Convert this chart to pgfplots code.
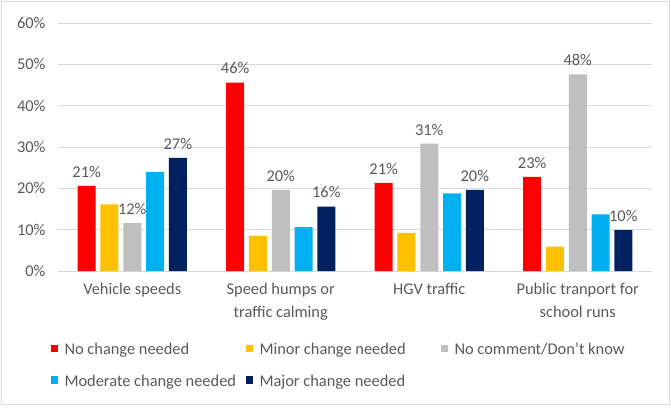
\documentclass[border=0pt]{standalone}
\usepackage{pgfplots}
\pgfplotsset{compat=1.18}
\usepackage{fontspec}
\setmainfont{Carlito}
\definecolor{cred}{HTML}{FF0000}
\definecolor{corange}{HTML}{FFC000}
\definecolor{cgray}{HTML}{BFBFBF}
\definecolor{ccyan}{HTML}{00B0F0}
\definecolor{cnavy}{HTML}{002060}
\definecolor{txt}{HTML}{595959}
\definecolor{gridc}{HTML}{D9D9D9}
\pgfplotsset{
  myleg/.style={legend image code/.code={\fill[##1] (0pt,-3.75pt) rectangle (7.5pt,3.75pt); \path (14pt,0pt);}},
  mylab/.style={nodes near coords={\pgfmathprintnumber[fixed,precision=0]{\pgfplotspointmeta}\%},
    every node near coord/.append style={font=\fontsize{16.4}{19.2}\selectfont, text=txt, yshift=5pt}},
}
\newcommand{\legtxt}[1]{\makebox[181pt][l]{\strut #1}}
\begin{document}
\begin{tikzpicture}[x=1pt,y=1pt]
\useasboundingbox (0,0) rectangle (671,408);
\draw[gridc, line width=1pt] (1.5,3.5) rectangle (669.5,406.5);
\begin{axis}[
  at={(58pt,137pt)}, anchor=south west,
  scale only axis, width=594pt, height=248pt,
  xmin=-0.5, xmax=3.5, ymin=0, ymax=60,
  ybar=4.8pt, bar width=18pt,
  axis line style={draw=none},
  major tick length=0pt,
  ytick={0,10,...,60},
  yticklabel={\pgfmathprintnumber{\tick}\%},
  /pgf/number format/assume math mode=true,
  ymajorgrids, grid style={gridc, line width=1pt},
  xtick={0,1,2,3},
  xticklabels={Vehicle speeds,{Speed humps or\\traffic calming},HGV traffic,{Public tranport for\\school runs}},
  tick label style={text=txt},
  yticklabel style={font=\fontsize{16.4}{19.2}\selectfont, xshift=-9pt},
  xticklabel style={font=\fontsize{16.4}{23}\selectfont, align=center, yshift=-9pt},
  legend columns=3,
  legend style={at={(-0.0126,-0.283)}, anchor=north west, draw=none, fill=none,
    inner sep=0pt, outer sep=0pt, column sep=0pt, row sep=16.5pt,
    nodes={inner sep=0pt, text=txt, font=\fontsize{16.4}{19.2}\selectfont},
    cells={anchor=west}},
]
\addplot[fill=cred, draw=none, myleg, mylab] coordinates {(0,20.6) (1,45.6) (2,21.3) (3,22.8)};
\addplot[fill=corange, draw=none, myleg] coordinates {(0,16.1) (1,8.5) (2,9.2) (3,5.9)};
\addplot[fill=cgray, draw=none, myleg, mylab] coordinates {(0,11.6) (1,19.6) (2,30.8) (3,47.6)};
\addplot[fill=ccyan, draw=none, myleg] coordinates {(0,23.9) (1,10.6) (2,18.8) (3,13.7)};
\addplot[fill=cnavy, draw=none, myleg, mylab] coordinates {(0,27.4) (1,15.6) (2,19.6) (3,9.9)};
\legend{\legtxt{No change needed},\legtxt{Minor change needed},\legtxt{No comment/Don't know},\legtxt{Moderate change needed},\legtxt{Major change needed}}
\end{axis}
\end{tikzpicture}
\end{document}
